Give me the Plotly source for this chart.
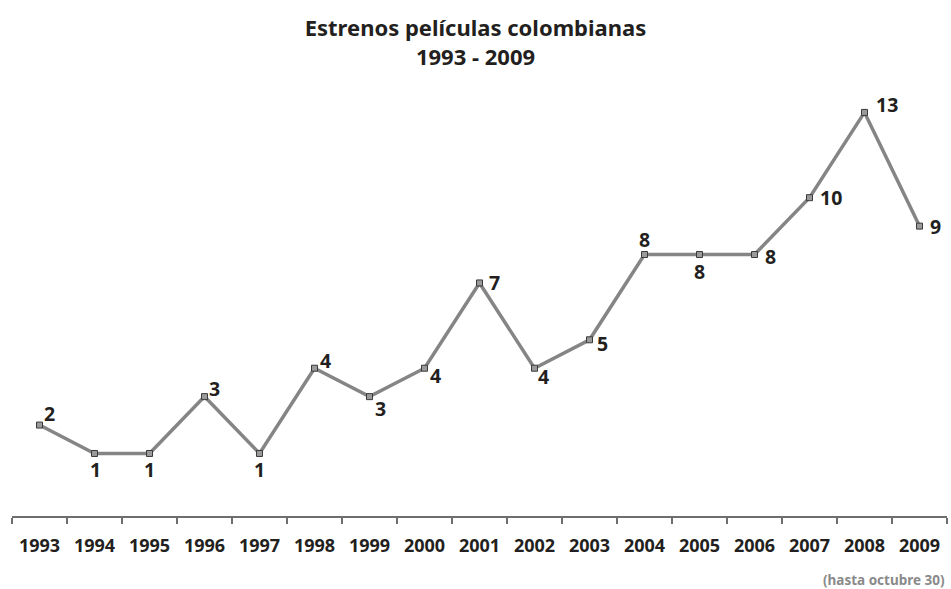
import plotly.graph_objects as go

years = ["1993", "1994", "1995", "1996", "1997", "1998", "1999", "2000", "2001",
         "2002", "2003", "2004", "2005", "2006", "2007", "2008", "2009"]
estrenos = [2, 1, 1, 3, 1, 4, 3, 4, 7, 4, 5, 8, 8, 8, 10, 13, 9]

# label offsets (pixels, label centre relative to its point)
label_dx = [10, 1, 0, 10, 0, 11, 11, 11, 15, 9, 13, 0, 0, 16, 21, 22, 16]
label_dy = [-12, 16, 16, -8, 16, -8, 12, 7, 0, 8, 4, -15, 17, 2, 0, -8, 0]

FONT = "Noto Sans"

fig = go.Figure()
fig.add_trace(go.Scatter(
    x=years, y=estrenos,
    mode="lines+markers",
    line=dict(color="#858585", width=3.5),
    marker=dict(symbol="square", size=6, color="#9a9a9a",
                line=dict(color="#3a3a3a", width=1)),
    cliponaxis=False,
    hoverinfo="x+y",
))

annotations = []
for i, (v, dx, dy) in enumerate(zip(estrenos, label_dx, label_dy)):
    annotations.append(dict(
        x=i, y=v, xref="x", yref="y", text=str(v), showarrow=False,
        xanchor="center", yanchor="middle", xshift=dx, yshift=-dy,
        font=dict(family=FONT, size=19.5, color="#231f20", weight="bold"),
    ))
annotations.append(dict(
    text="(hasta octubre 30)", xref="paper", yref="paper",
    x=1.0, y=-0.148, xanchor="right", yanchor="middle", showarrow=False,
    font=dict(family=FONT, size=13.5, color="#8a8a8a", weight="bold"),
))

fig.update_layout(
    width=951, height=589,
    margin=dict(l=12, r=4, t=84, b=73),
    paper_bgcolor="white", plot_bgcolor="white",
    showlegend=False,
    title=dict(
        text="Estrenos películas colombianas<br>1993 - 2009",
        x=0.5, xanchor="center", y=0.939, yanchor="top",
        font=dict(family=FONT, size=22, color="#231f20", weight="bold"),
    ),
    xaxis=dict(
        type="category",
        range=[-0.5, 16.5],
        showgrid=False, zeroline=False,
        showline=True, linecolor="#6e6e6e", linewidth=2,
        ticks="outside", tickson="boundaries", ticklen=6,
        tickcolor="#6e6e6e", tickwidth=2,
        ticklabelstandoff=12,
        tickfont=dict(family=FONT, size=18, color="#231f20", weight="bold"),
    ),
    yaxis=dict(
        range=[-1.2, 14],
        visible=False, showgrid=False, zeroline=False,
    ),
    annotations=annotations,
)

fig.write_html("out.html", config={"displayModeBar": False},
               post_script="document.body.style.margin='0';")
